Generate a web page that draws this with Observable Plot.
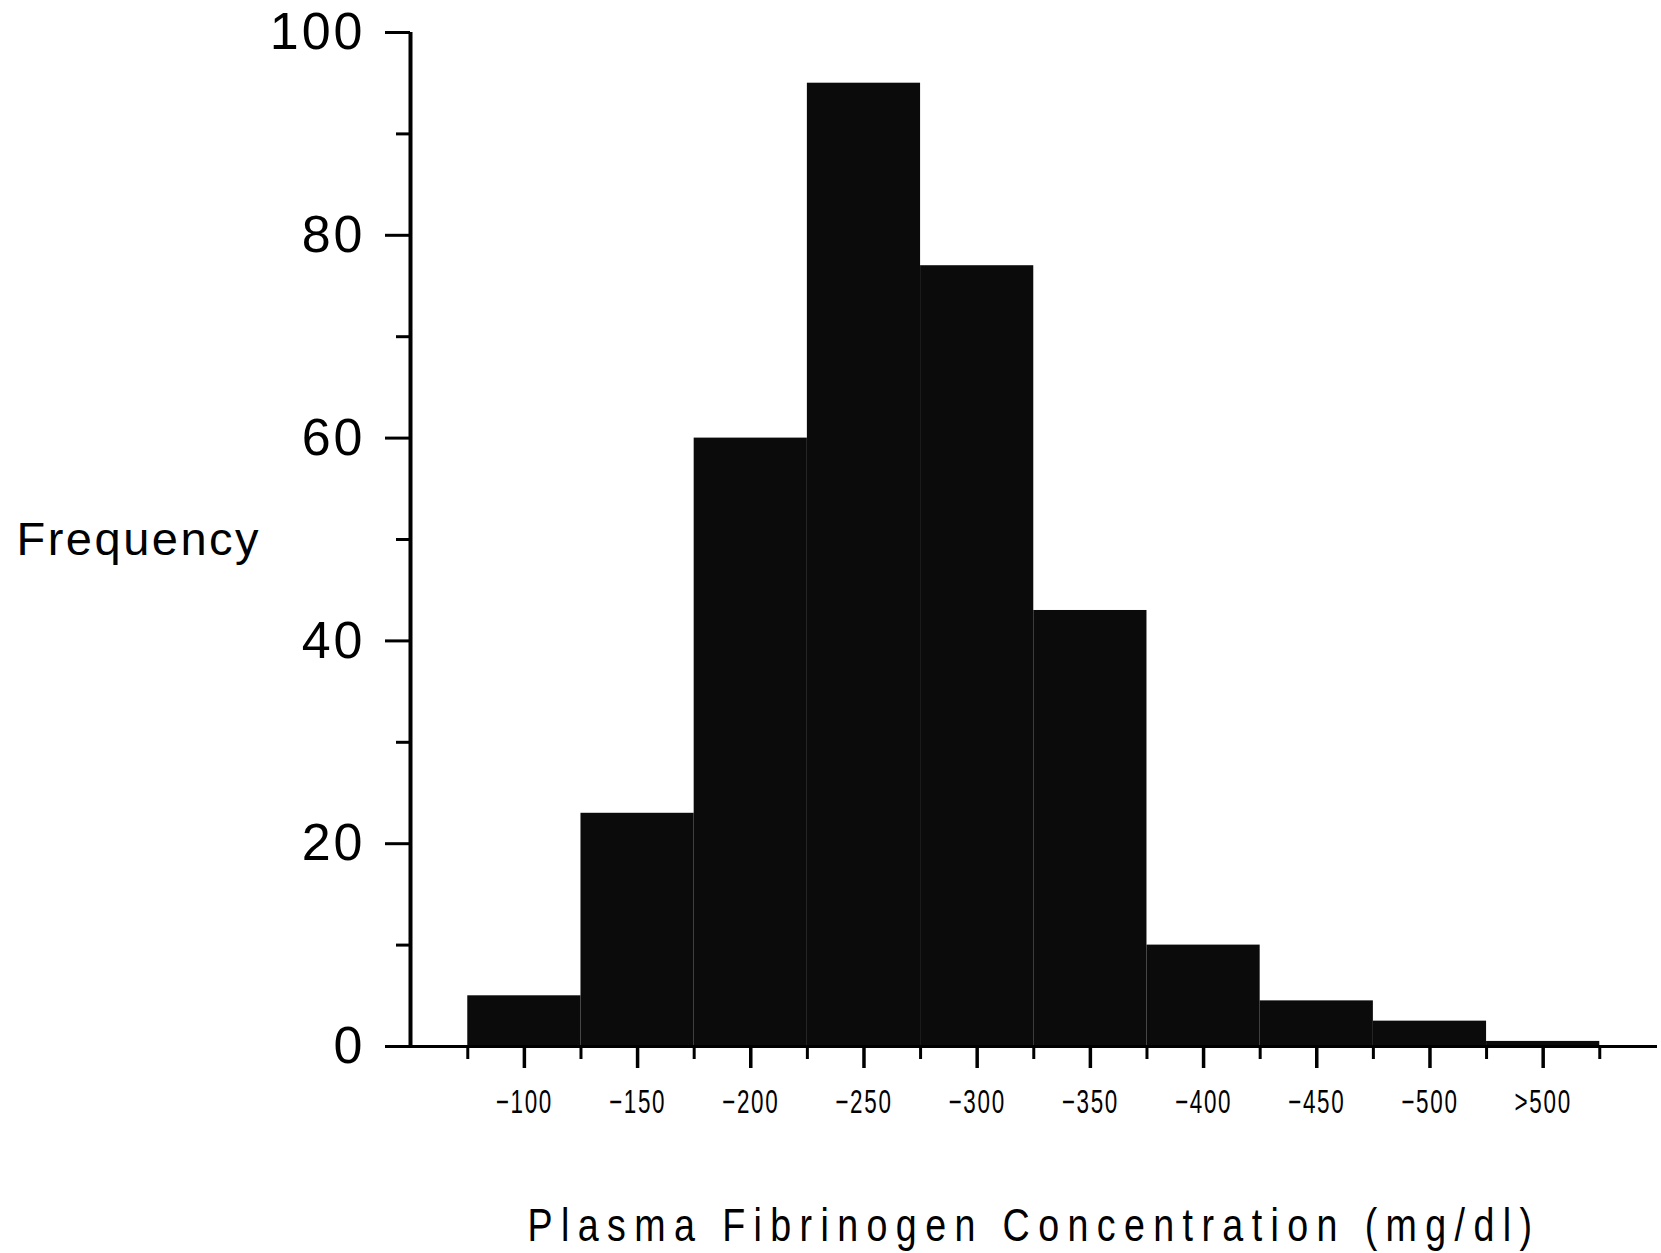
<!DOCTYPE html>
<html>
<head>
<meta charset="utf-8">
<script src="https://cdn.jsdelivr.net/npm/d3@7"></script>
<script src="https://cdn.jsdelivr.net/npm/@observablehq/plot@0.6"></script>
<style>
  body { margin: 0; background: #fff; }
  #chart svg { display: block; background: #fff; }
  g[aria-label="y-axis tick label"] text { letter-spacing: 3px; }
</style>
</head>
<body>
<div id="chart"></div>
<script>
// ---- data ----
const categories = ["−100", "−150", "−200", "−250", "−300", "−350", "−400", "−450", "−500", ">500"];
const frequencies = [5, 23, 60, 95, 77, 43, 10, 4.5, 2.5, 0.5];
const yTicks = [0, 20, 40, 60, 80, 100];
const yMinorTicks = [10, 30, 50, 70, 90];
const yTitle = "Frequency";
const xTitle = "Plasma Fibrinogen Concentration (mg/dl)";

const bins = categories.map((label, i) => ({label, x1: i, x2: i + 1, mid: i + 0.5, freq: frequencies[i]}));
const edges = d3.range(categories.length + 1);

const xMin = -0.506, xMax = 10.51;
const sans = "'Liberation Sans', Arial, Helvetica, sans-serif";

const chart = Plot.plot({
  width: 1661,
  height: 1253,
  marginLeft: 410,
  marginRight: 4,
  marginTop: 32,
  marginBottom: 207,
  style: {background: "#fff", color: "#000"},
  x: {domain: [xMin, xMax], axis: null},
  y: {domain: [0, 100], axis: null},
  marks: [
    Plot.rect(bins, {x1: "x1", x2: "x2", y1: 0, y2: "freq", fill: "#0b0b0b"}),
    Plot.ruleX([xMin], {y1: 0, y2: 100, stroke: "#000", strokeWidth: 4}),
    Plot.ruleY([0], {stroke: "#000", strokeWidth: 3}),
    Plot.axisY(yTicks, {label: null, tickSize: 25, tickPadding: 20, fontSize: 52, fontFamily: sans, strokeWidth: 3, stroke: "#000", fill: "#000"}),
    Plot.axisY(yMinorTicks, {label: null, tickSize: 14, tickFormat: () => "", strokeWidth: 3, stroke: "#000"}),
    Plot.axisX(bins.map(d => d.mid), {label: null, tickSize: 22, tickPadding: 21, fontSize: 33, fontFamily: sans, strokeWidth: 3.5, stroke: "#000", fill: "#000",
      tickFormat: v => categories[Math.floor(v)]}),
    Plot.axisX(edges, {label: null, tickSize: 13, tickFormat: () => "", strokeWidth: 3, stroke: "#000"}),
    Plot.text([yTitle], {text: d => d, frameAnchor: "left", textAnchor: "start", dx: -394, fontSize: 47, fontFamily: sans, fill: "#000"}),
    Plot.text([xTitle], {text: d => d, frameAnchor: "bottom", dy: 194, fontSize: 47, fontFamily: sans, fill: "#000"})
  ]
});
document.getElementById("chart").append(chart);

// emulate the condensed, letter-spaced typewriter lettering of the original
function condense(el, sx, spacing) {
  const t = d3.select(el);
  const xa = t.attr("x");
  const x = xa != null && isFinite(+xa) ? +xa : 0;
  const tr = t.attr("transform") || "";
  if (xa != null && isFinite(+xa)) t.attr("x", null);
  t.attr("transform", `${tr} translate(${x},0) scale(${sx},1)`)
   .attr("letter-spacing", spacing);
}
const svg = d3.select(chart);
svg.selectAll('g[aria-label="x-axis tick label"] text').each(function() { condense(this, 0.68, 2.5); });
svg.selectAll("text").filter(function() { return this.textContent === xTitle; }).each(function() { condense(this, 0.8, 10.5); });
svg.selectAll("text").filter(function() { return this.textContent === yTitle; }).attr("letter-spacing", 2.5);
</script>
</body>
</html>
